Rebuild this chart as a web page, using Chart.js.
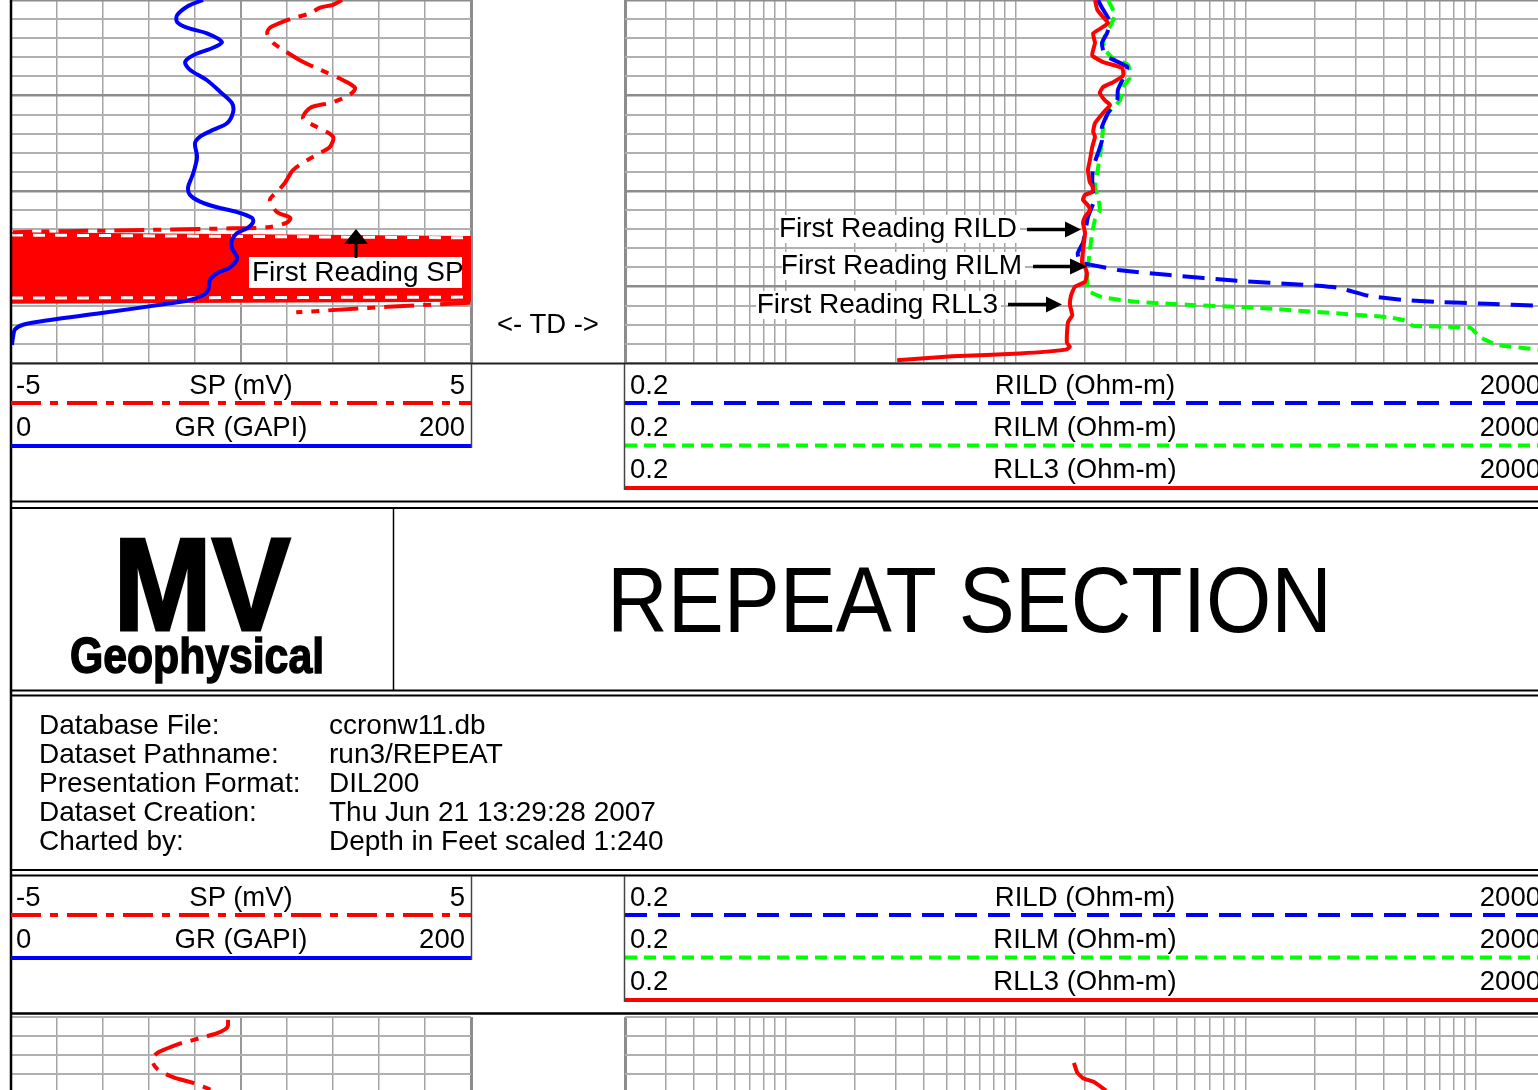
<!DOCTYPE html>
<html>
<head>
<meta charset="utf-8">
<script src="https://cdn.jsdelivr.net/npm/chart.js@4.4.1/dist/chart.umd.min.js"></script>
<style>
  html, body { margin: 0; padding: 0; background: #fff; }
  body { width: 1538px; height: 1090px; overflow: hidden; position: relative; }
  canvas { position: absolute; }
  #overlay { position: absolute; left: 0; top: 0; pointer-events: none; }
</style>
</head>
<body>
<canvas id="spgrTop" width="470" height="373" style="left:6px;top:-5px"></canvas>
<canvas id="resTop" width="930" height="373" style="left:620px;top:-5px"></canvas>
<canvas id="spgrLow" width="470" height="373" style="left:6px;top:1012px"></canvas>
<canvas id="resLow" width="930" height="373" style="left:620px;top:1012px"></canvas>
<svg id="overlay" width="1538" height="1090" xmlns="http://www.w3.org/2000/svg"></svg>
<script>
// depth (ft) window of each strip
const topDepthMin = 4990, topDepthMax = 5028;
const lowDepthMin = 5044.3, lowDepthMax = 5082.3;

// scale headings
const leftScaleLabels = ['SP (mV)', 'GR (GAPI)'];
const leftScaleLow = ['-5', '0'];
const leftScaleHigh = ['5', '200'];
const rightScaleLabels = ['RILD (Ohm-m)', 'RILM (Ohm-m)', 'RLL3 (Ohm-m)'];
const rightScaleLow = ['0.2', '0.2', '0.2'];
const rightScaleHigh = ['2000', '2000', '2000'];

const infoLabels = ['Database File:', 'Dataset Pathname:', 'Presentation Format:', 'Dataset Creation:', 'Charted by:'];
const infoValues = ['ccronw11.db', 'run3/REPEAT', 'DIL200', 'Thu Jun 21 13:29:28 2007', 'Depth in Feet scaled 1:240'];
const firstReadingLabels = ['First Reading SP', 'First Reading RILD', 'First Reading RILM', 'First Reading RLL3'];
const titleText = 'REPEAT SECTION';
const logoText = ['MV', 'Geophysical'];
const tdLabel = '<- TD ->';

// GR curve
const grDepth = [4990.0, 4990.7, 4991.6, 4992.3, 4992.9, 4993.5, 4994.4, 4995.0, 4995.8, 4996.5, 4997.3, 4998.4, 4999.6, 5000.8, 5001.8, 5002.9, 5003.6, 5004.3, 5005.0, 5006.4, 5007.5, 5008.5, 5009.6, 5010.4, 5011.1, 5011.7, 5012.2, 5012.8, 5013.3, 5013.9, 5014.4, 5015.1, 5016.0, 5017.0, 5018.0, 5018.6, 5019.3, 5020.4, 5020.9, 5021.4, 5021.8, 5022.8, 5023.5, 5024.0, 5024.5, 5025.3, 5026.1];
const grValue = [83.5, 76.5, 72.2, 72.2, 76.5, 85.2, 91.7, 87.8, 79.1, 75.7, 77.8, 85.2, 90.9, 96.1, 96.5, 93.9, 87.8, 82.2, 80.0, 80.9, 80.0, 78.7, 77.0, 77.8, 82.2, 89.6, 98.3, 104.8, 105.2, 102.6, 98.3, 96.1, 96.1, 98.3, 95.2, 89.6, 86.5, 85.7, 83.5, 77.8, 67.8, 38.7, 17.0, 5.2, 1.7, 0.9, 0.4];

// SP curve, above and below the noisy stationary zone
const spDepth = [4990.0, 4990.5, 4990.8, 4991.4, 4991.9, 4992.4, 4992.9, 4993.5, 4994.5, 4995.2, 4996.3, 4997.3, 4998.4, 4999.2, 4999.9, 5000.7, 5001.3, 5002.4, 5003.3, 5004.3, 5005.4, 5006.0, 5006.8, 5007.8, 5009.1, 5010.1, 5010.9, 5012.2, 5012.8, 5013.3, 5013.8, 5013.9, 5014.1, 5014.2, 5014.3];
const spValue = [2.20, 2.00, 1.72, 1.50, 1.13, 0.85, 0.63, 0.57, 0.70, 0.91, 1.28, 1.72, 2.22, 2.48, 2.37, 2.00, 1.50, 1.35, 1.65, 2.00, 1.93, 1.72, 1.43, 1.13, 0.96, 0.78, 0.63, 0.78, 1.07, 1.00, 0.57, -0.17, -2.35, -3.78, -4.96];
const spTailDepth = [5021.7, 5022.1, 5022.7];
const spTailValue = [4.98, 3.2, 1.2];
const spBandDepth = [5014.3, 5014.7, 5021.6, 5021.8];
const spBandValue = [-5, 5, 5, -5];
const spGapTopDepth = [5014.6, 5014.9];
const spGapBottomDepth = [5021.2, 5021.1];
const spGapValue = [-5, 5];

// resistivity curves (Ohm-m)
const rildDepth = [4990.0, 4990.8, 4992.3, 4993.5, 4994.5, 4995.8, 4997.0, 4998.2, 4999.4, 5000.5, 5001.8, 5003.3, 5004.7, 5006.0, 5007.5, 5008.8, 5010.2, 5011.3, 5012.7, 5014.4, 5015.4, 5016.5, 5017.5, 5017.7, 5018.3, 5018.8, 5019.4, 5019.8, 5020.1, 5021.0, 5021.4, 5021.6, 5021.8, 5022.0];
const rildValue = [22.8, 23.7, 25.7, 24.9, 23.7, 24.4, 30.5, 29.3, 27.8, 27.6, 25.2, 23.7, 23.7, 22.8, 21.7, 21.5, 21.7, 21.7, 20.6, 20.0, 19.6, 18.6, 19.0, 21.0, 28.4, 46.8, 91.6, 177, 249, 347, 483, 678, 1119, 1865];
const rilmDepth = [4990.0, 4990.8, 4991.6, 4992.8, 4994.2, 4995.2, 4996.1, 4996.8, 4998.1, 4999.1, 5000.5, 5001.8, 5003.3, 5004.7, 5006.4, 5008.1, 5009.6, 5010.6, 5012.0, 5013.0, 5014.4, 5016.2, 5018.0, 5019.3, 5020.4, 5021.1, 5021.6, 5021.9, 5022.2, 5022.8, 5023.2, 5023.5, 5024.1, 5024.3, 5025.3, 5026.1, 5026.6];
const rilmValue = [25.2, 26.2, 27.0, 25.7, 24.0, 24.4, 26.5, 30.8, 31.4, 29.3, 28.4, 25.2, 24.0, 23.7, 23.2, 22.6, 22.1, 22.8, 23.2, 22.1, 21.5, 21.0, 20.6, 20.4, 20.6, 23.7, 33.7, 55.5, 107.5, 249, 411, 483, 534, 944, 1043, 1237, 1865];
const rll3Depth = [4990.0, 4991.0, 4991.8, 4992.4, 4992.9, 4993.5, 4994.5, 4995.8, 4996.5, 4997.1, 4997.9, 4998.6, 4999.1, 4999.7, 5000.5, 5001.0, 5001.8, 5002.9, 5003.8, 5004.3, 5005.4, 5006.8, 5007.8, 5009.1, 5009.6, 5010.1, 5010.4, 5010.9, 5011.5, 5012.0, 5012.7, 5013.3, 5014.4, 5016.2, 5017.5, 5018.0, 5018.6, 5019.5, 5020.0, 5020.9, 5021.9, 5023.0, 5023.7, 5024.9, 5025.9, 5026.3, 5026.6, 5027.0, 5027.3, 5027.7];
const rll3Value = [22.1, 22.6, 24.0, 25.2, 23.7, 21.7, 22.1, 21.5, 24.0, 29.0, 29.3, 26.5, 24.0, 23.2, 24.4, 25.7, 24.0, 22.1, 21.7, 22.1, 21.5, 21.0, 20.6, 21.0, 21.7, 21.5, 20.0, 19.6, 20.6, 21.0, 20.0, 19.6, 20.0, 19.6, 19.4, 20.0, 20.4, 20.0, 18.1, 17.4, 17.2, 17.6, 16.9, 16.7, 16.7, 17.2, 16.5, 10.4, 5.3, 3.05];

// start of the next section (bottom strip)
const spLowDepth = [5044.6, 5045.4, 5046.0, 5046.5, 5046.9, 5047.0, 5047.6, 5048.1, 5048.8, 5049.7, 5050.6, 5051.2, 5052.0];
const spLowValue = [-0.28, -0.30, -0.52, -0.89, -1.17, -1.28, -1.61, -1.83, -1.93, -1.83, -1.48, -1.04, -0.61];
const rll3LowDepth = [5049.1, 5050.1, 5050.7, 5051.1, 5052.0];
const rll3LowValue = [17.9, 18.5, 19.6, 21.9, 24.7];

const FONT = 'Liberation Sans, Arial, sans-serif';

function points(depths, values) {
    return depths.map((d, i) => ({ x: values[i], y: d }));
}

function curve(data, color, width, dash, axisId, tension) {
    return {
        data: data,
        showLine: true,
        borderColor: color,
        borderWidth: width,
        borderDash: dash,
        borderJoinStyle: 'round',
        pointRadius: 0,
        tension: tension,
        fill: false,
        xAxisID: axisId
    };
}

function isMajor(c) {
    return c.tick && Math.abs(c.tick.value % 10) < 0.01;
}

function depthAxis(min, max) {
    return {
        type: 'linear',
        reverse: true,
        min: min,
        max: max,
        ticks: { display: false, stepSize: 2 },
        grid: {
            drawTicks: false,
            color: c => isMajor(c) ? '#8c8c8c' : '#b0b0b0',
            lineWidth: c => isMajor(c) ? 2.5 : 2
        },
        border: { display: false }
    };
}

function baseOptions(scales) {
    return {
        responsive: false,
        animation: false,
        events: [],
        layout: { padding: { left: 5, right: 5, top: 5, bottom: 5 } },
        plugins: { legend: { display: false }, tooltip: { enabled: false } },
        scales: scales
    };
}

function spgrScales(min, max) {
    return {
        xsp: {
            type: 'linear', position: 'bottom',
            min: Number(leftScaleLow[0]), max: Number(leftScaleHigh[0]),
            ticks: { display: false, stepSize: 1 },
            grid: {
                drawTicks: false,
                color: c => c.tick.value === 5 ? '#8c8c8c' : (c.tick.value === 0 ? '#979797' : '#a4a4a4'),
                lineWidth: c => c.tick.value === 5 ? 3 : (c.tick.value === 0 ? 2 : 1.5)
            },
            border: { display: false }
        },
        xgr: { type: 'linear', display: false, min: Number(leftScaleLow[1]), max: Number(leftScaleHigh[1]) },
        y: depthAxis(min, max)
    };
}

const logGrid = [];
for (let e = -1; e <= 3; e++) {
    for (let k = 1; k <= 9; k++) {
        const v = Number((k * Math.pow(10, e)).toPrecision(3));
        if (v >= 0.2 && v <= 2000) logGrid.push(v);
    }
}

function resScales(min, max) {
    return {
        x: {
            type: 'logarithmic',
            min: Number(rightScaleLow[0]), max: Number(rightScaleHigh[0]),
            afterBuildTicks: axis => { axis.ticks = logGrid.map(v => ({ value: v })); },
            ticks: { display: false },
            grid: {
                drawTicks: false,
                color: c => c.tick.value === 0.2 ? '#8c8c8c' : '#a4a4a4',
                lineWidth: c => c.tick.value === 0.2 ? 3 : 1.5
            },
            border: { display: false }
        },
        y: depthAxis(min, max)
    };
}

const spDash = [30, 9, 8, 9];
const rildDash = [22, 11];
const rilmDash = [12, 7];

function drawTracks() {
    new Chart(document.getElementById('spgrTop'), {
        type: 'scatter',
        data: {
            datasets: [
                curve(points(grDepth, grValue), '#0000ff', 4, [], 'xgr', 0.3),
                curve(points(spDepth, spValue), '#ff0000', 4, spDash, 'xsp', 0.3),
                curve(points(spTailDepth, spTailValue), '#ff0000', 4, spDash, 'xsp', 0),
                curve(points(spGapTopDepth, spGapValue), '#ffffff', 3, [12, 10], 'xsp', 0),
                curve(points(spGapBottomDepth, spGapValue), '#ffffff', 3, [12, 10], 'xsp', 0),
                {
                    data: points(spBandDepth, spBandValue),
                    showLine: true, borderWidth: 0, pointRadius: 0, tension: 0,
                    backgroundColor: '#ff0000', fill: 'shape', xAxisID: 'xsp'
                }
            ]
        },
        options: baseOptions(spgrScales(topDepthMin, topDepthMax))
    });

    new Chart(document.getElementById('resTop'), {
        type: 'scatter',
        data: {
            datasets: [
                curve(points(rll3Depth, rll3Value), '#ff0000', 4, [], 'x', 0.15),
                curve(points(rildDepth, rildValue), '#0000ff', 4, rildDash, 'x', 0.15),
                curve(points(rilmDepth, rilmValue), '#00ff00', 4, rilmDash, 'x', 0.15)
            ]
        },
        options: baseOptions(resScales(topDepthMin, topDepthMax))
    });

    new Chart(document.getElementById('spgrLow'), {
        type: 'scatter',
        data: { datasets: [curve(points(spLowDepth, spLowValue), '#ff0000', 4, spDash, 'xsp', 0.3)] },
        options: baseOptions(spgrScales(lowDepthMin, lowDepthMax))
    });

    new Chart(document.getElementById('resLow'), {
        type: 'scatter',
        data: { datasets: [curve(points(rll3LowDepth, rll3LowValue), '#ff0000', 4, [], 'x', 0.15)] },
        options: baseOptions(resScales(lowDepthMin, lowDepthMax))
    });
}

function esc(s) {
    return s.replace(/&/g, '&amp;').replace(/</g, '&lt;').replace(/>/g, '&gt;');
}

function txt(x, y, s, size, anchor, extra) {
    return `<text x="${x}" y="${y}" font-family="${FONT}" font-size="${size}" text-anchor="${anchor || 'start'}" fill="#000" ${extra || ''}>${esc(s)}</text>`;
}

function hline(x1, x2, y, color, w, dash) {
    return `<line x1="${x1}" y1="${y}" x2="${x2}" y2="${y}" stroke="${color}" stroke-width="${w}"${dash ? ` stroke-dasharray="${dash}"` : ''}/>`;
}

function vline(x, y1, y2, color, w) {
    return `<line x1="${x}" y1="${y1}" x2="${x}" y2="${y2}" stroke="${color}" stroke-width="${w}"/>`;
}

function legendBlock(dy) {
    let s = '';
    for (let i = 0; i < leftScaleLabels.length; i++) {
        const by = 394 + dy + i * 42;
        s += txt(16, by, leftScaleLow[i], 27.5) + txt(241, by, leftScaleLabels[i], 27.5, 'middle') + txt(465, by, leftScaleHigh[i], 27.5, 'end');
    }
    for (let i = 0; i < rightScaleLabels.length; i++) {
        const by = 394 + dy + i * 42;
        s += txt(630, by, rightScaleLow[i], 27.5) + txt(1085, by, rightScaleLabels[i], 27.5, 'middle') + txt(1541, by, rightScaleHigh[i], 27.5, 'end');
    }
    s += hline(11, 471, 403 + dy, '#ff0000', 4, spDash.join(' '));
    s += hline(11, 471, 446 + dy, '#0000ff', 4);
    s += hline(625, 1545, 403 + dy, '#0000ff', 4, rildDash.join(' '));
    s += hline(625, 1545, 445.5 + dy, '#00ff00', 4, rilmDash.join(' '));
    s += hline(625, 1545, 488 + dy, '#ff0000', 4);
    s += vline(471.5, 364 + dy, 448 + dy, '#444', 1.5);
    s += vline(624.5, 364 + dy, 490 + dy, '#444', 1.5);
    return s;
}

function drawOverlay() {
    let s = '';
    // annotations over the tracks
    s += `<rect x="249" y="257" width="213" height="31" fill="#fff"/>`;
    s += txt(252, 281, firstReadingLabels[0], 28);
    s += vline(356, 258, 241, '#000', 3);
    s += `<polygon points="356,229 344,244 368,244" fill="#000"/>`;
    s += `<rect x="779" y="215" width="241" height="28" fill="#fff"/>`;
    s += txt(1017, 237, firstReadingLabels[1], 28, 'end');
    s += hline(1027, 1067, 229.5, '#000', 3.5);
    s += `<polygon points="1081,229.5 1065,221.5 1065,237.5" fill="#000"/>`;
    s += `<rect x="782" y="252" width="243" height="28" fill="#fff"/>`;
    s += txt(1022, 274, firstReadingLabels[2], 28, 'end');
    s += hline(1033, 1071, 266.5, '#000', 3.5);
    s += `<polygon points="1087,266.5 1070,258.5 1070,274.5" fill="#000"/>`;
    s += `<rect x="756" y="291" width="245" height="28" fill="#fff"/>`;
    s += txt(998, 313, firstReadingLabels[3], 28, 'end');
    s += hline(1008, 1048, 304.5, '#000', 3.5);
    s += `<polygon points="1062,304.5 1046,296.5 1046,312.5" fill="#000"/>`;
    s += txt(548, 333, tdLabel, 27.5, 'middle');

    // frame lines
    s += vline(11, 0, 1090, '#000', 2.5);
    s += hline(11, 1538, 363.5, '#222', 2);
    s += hline(11, 1538, 501.5, '#000', 2);
    s += hline(11, 1538, 508, '#000', 2);
    s += hline(11, 1538, 690.5, '#000', 2);
    s += vline(393.5, 508, 690, '#000', 1.5);
    s += hline(11, 1538, 695.5, '#000', 2);
    s += hline(11, 1538, 870, '#000', 2);
    s += hline(11, 1538, 875.5, '#000', 2);
    s += hline(11, 1538, 1013.5, '#000', 2.5);

    s += legendBlock(0);
    s += legendBlock(512);

    // header
    s += txt(113.5, 630, logoText[0], 132, 'start', `font-weight="bold" stroke="#000" stroke-width="3" textLength="177" lengthAdjust="spacingAndGlyphs"`);
    s += txt(70, 673, logoText[1], 50, 'start', `font-weight="bold" stroke="#000" stroke-width="1.5" textLength="254" lengthAdjust="spacingAndGlyphs"`);
    s += txt(607, 632, titleText, 92, 'start', `textLength="725" lengthAdjust="spacingAndGlyphs"`);

    for (let i = 0; i < infoLabels.length; i++) {
        const by = 734 + i * 29;
        s += txt(39, by, infoLabels[i], 28) + txt(329, by, infoValues[i], 28);
    }

    document.getElementById('overlay').innerHTML = s;
}

function main() {
    drawTracks();
    drawOverlay();
}

document.addEventListener('DOMContentLoaded', main);
</script>
</body>
</html>
